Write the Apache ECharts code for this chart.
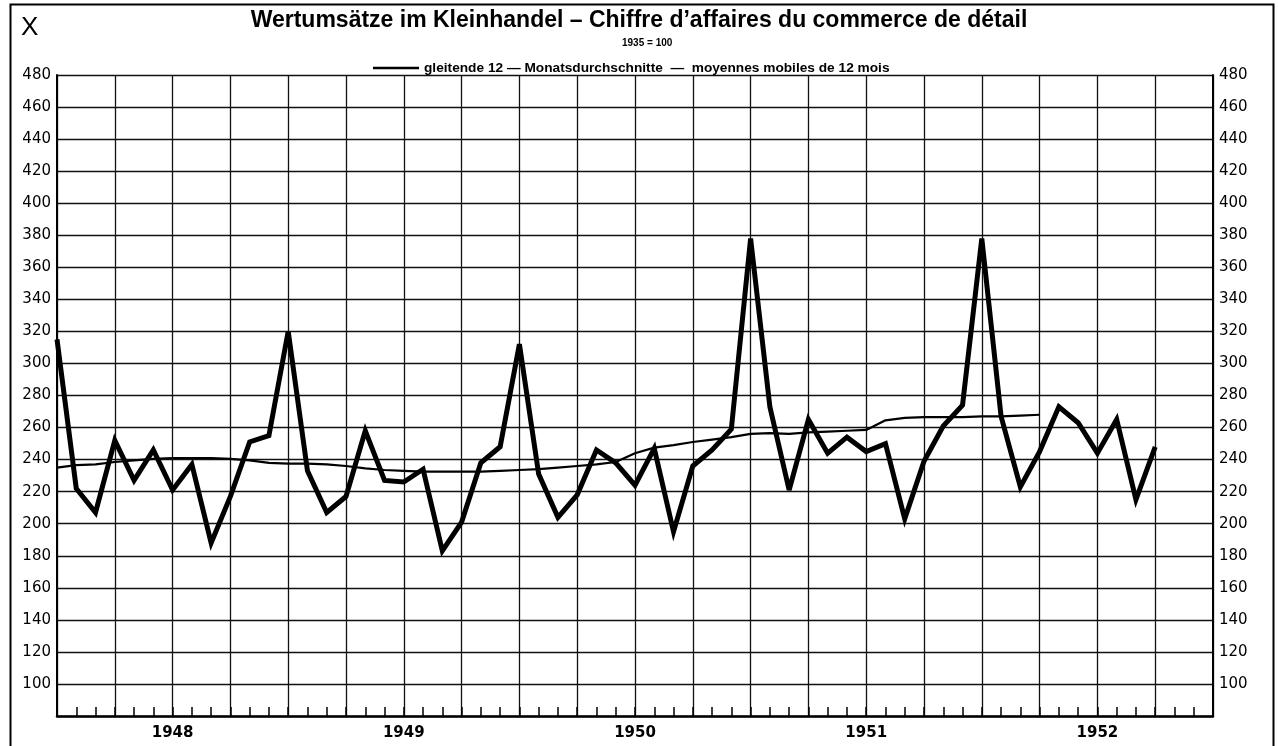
<!DOCTYPE html>
<html>
<head>
<meta charset="utf-8">
<script src="https://cdn.jsdelivr.net/npm/echarts@6/dist/echarts.min.js"></script>
<style>
html,body{margin:0;padding:0;background:#fff;}
#chart{width:1278px;height:746px;}
</style>
</head>
<body>
<div id="chart"></div>
<script>
const months = [
  '1947-12',
  '1948-01','1948-02','1948-03','1948-04','1948-05','1948-06','1948-07','1948-08','1948-09','1948-10','1948-11','1948-12',
  '1949-01','1949-02','1949-03','1949-04','1949-05','1949-06','1949-07','1949-08','1949-09','1949-10','1949-11','1949-12',
  '1950-01','1950-02','1950-03','1950-04','1950-05','1950-06','1950-07','1950-08','1950-09','1950-10','1950-11','1950-12',
  '1951-01','1951-02','1951-03','1951-04','1951-05','1951-06','1951-07','1951-08','1951-09','1951-10','1951-11','1951-12',
  '1952-01','1952-02','1952-03','1952-04','1952-05','1952-06','1952-07','1952-08','1952-09','1952-10','1952-11','1952-12'
];
const yearLabels = ['1948','1949','1950','1951','1952'];
const yTicks = [80,100,120,140,160,180,200,220,240,260,280,300,320,340,360,380,400,420,440,460,480];

const retailSales = [
  315,
  222,207,252,227,246,221,237,188,217,251,255,320,
  233,207,217,258,227,226,234,183,201,238,248,312,
  231,204,218,246,238,224,247,195,236,246,259,378,
  273,221,265,244,254,245,250,203,239,261,274,378,
  267,223,245,273,263,244,265,215,248
];
const movingAvg = [
  235,
  236.5,237,238.5,239.5,240.5,241,241,241,240.5,239.5,238,237.5,
  237.5,237,236,234.5,233.5,233,232.5,232.5,232.5,232.5,233,233.5,
  234,235,236,237,238.5,244,247.5,249,251,252.5,254,256,
  256.5,256,257,257.5,258,258.5,264.5,266,266.5,266.5,266.5,267,
  267,267.5,268
];

const titleText = 'Wertumsätze im Kleinhandel – Chiffre d\u2019affaires du commerce de détail';
const baseText = '1935 = 100';
const maName = 'gleitende 12 — Monatsdurchschnitte  —  moyennes mobiles de 12 mois';
const retailName = 'Wertumsätze';

const chart = echarts.init(document.getElementById('chart'));
const yLabelFmt = v => (v === yTicks[0] ? '' : String(v));
const yAxisCommon = {
  type: 'value', min: yTicks[0], max: yTicks[yTicks.length-1], interval: 20,
  axisLine: {show: true, lineStyle: {color: '#000', width: 2}},
  axisTick: {show: false},
  splitLine: {show: true, lineStyle: {color: '#111', width: 1.3}},
  axisLabel: {color: '#000', fontFamily: 'DejaVu Sans', fontSize: 15, margin: 6, formatter: yLabelFmt}
};
chart.setOption({
  backgroundColor: '#fff',
  animation: false,
  grid: {left: 57, right: 65, top: 75, bottom: 30},
  legend: {
    show: true, data: [maName], left: 368, top: 56,
    icon: 'rect', itemWidth: 46, itemHeight: 2.5, itemGap: 8,
    textStyle: {color: '#000', fontFamily: 'Liberation Sans', fontSize: 13.7, fontWeight: 'bold'}
  },
  graphic: [
    {type: 'rect', left: 8, top: 2, shape: {width: 1263, height: 746}, style: {fill: 'none', stroke: '#000', lineWidth: 2}},
    {type: 'text', left: 21, top: 15, style: {text: 'X', fontFamily: 'Liberation Sans', fontSize: 26, fill: '#000'}},
    {type: 'text', left: 'center', top: 9, style: {text: titleText, fontFamily: 'Liberation Sans', fontSize: 23, fontWeight: 'bold', fill: '#000'}},
    {type: 'text', left: 622, top: 38, style: {text: baseText, fontFamily: 'Liberation Sans', fontSize: 10, fontWeight: 'bold', fill: '#000'}}
  ],
  xAxis: {
    type: 'category', data: months, boundaryGap: false,
    axisLine: {show: true, lineStyle: {color: '#000', width: 2.5}},
    axisTick: {show: true, inside: true, length: 9, interval: 0, lineStyle: {color: '#000', width: 1.5}},
    splitLine: {show: true, interval: (i) => i % 3 === 0, lineStyle: {color: '#111', width: 1.3}},
    axisLabel: {
      interval: 0, margin: 10, color: '#000', fontFamily: 'DejaVu Sans', fontSize: 15, fontWeight: 'bold',
      formatter: (val) => {
        const [y, m] = val.split('-');
        return (m === '06' && yearLabels.includes(y)) ? y : '';
      }
    }
  },
  yAxis: [
    Object.assign({}, yAxisCommon, {position: 'left'}),
    Object.assign({}, yAxisCommon, {position: 'right', splitLine: {show: false}})
  ],
  series: [
    {
      name: maName, type: 'line', data: movingAvg, symbol: 'none', yAxisIndex: 0,
      lineStyle: {color: '#000', width: 2.2}, itemStyle: {color: '#000'}, z: 3
    },
    {
      name: retailName, type: 'line', data: retailSales, symbol: 'none', yAxisIndex: 0,
      lineStyle: {color: '#000', width: 5, join: 'miter', miterLimit: 4}, itemStyle: {color: '#000'}, z: 4
    }
  ]
});
</script>
</body>
</html>
